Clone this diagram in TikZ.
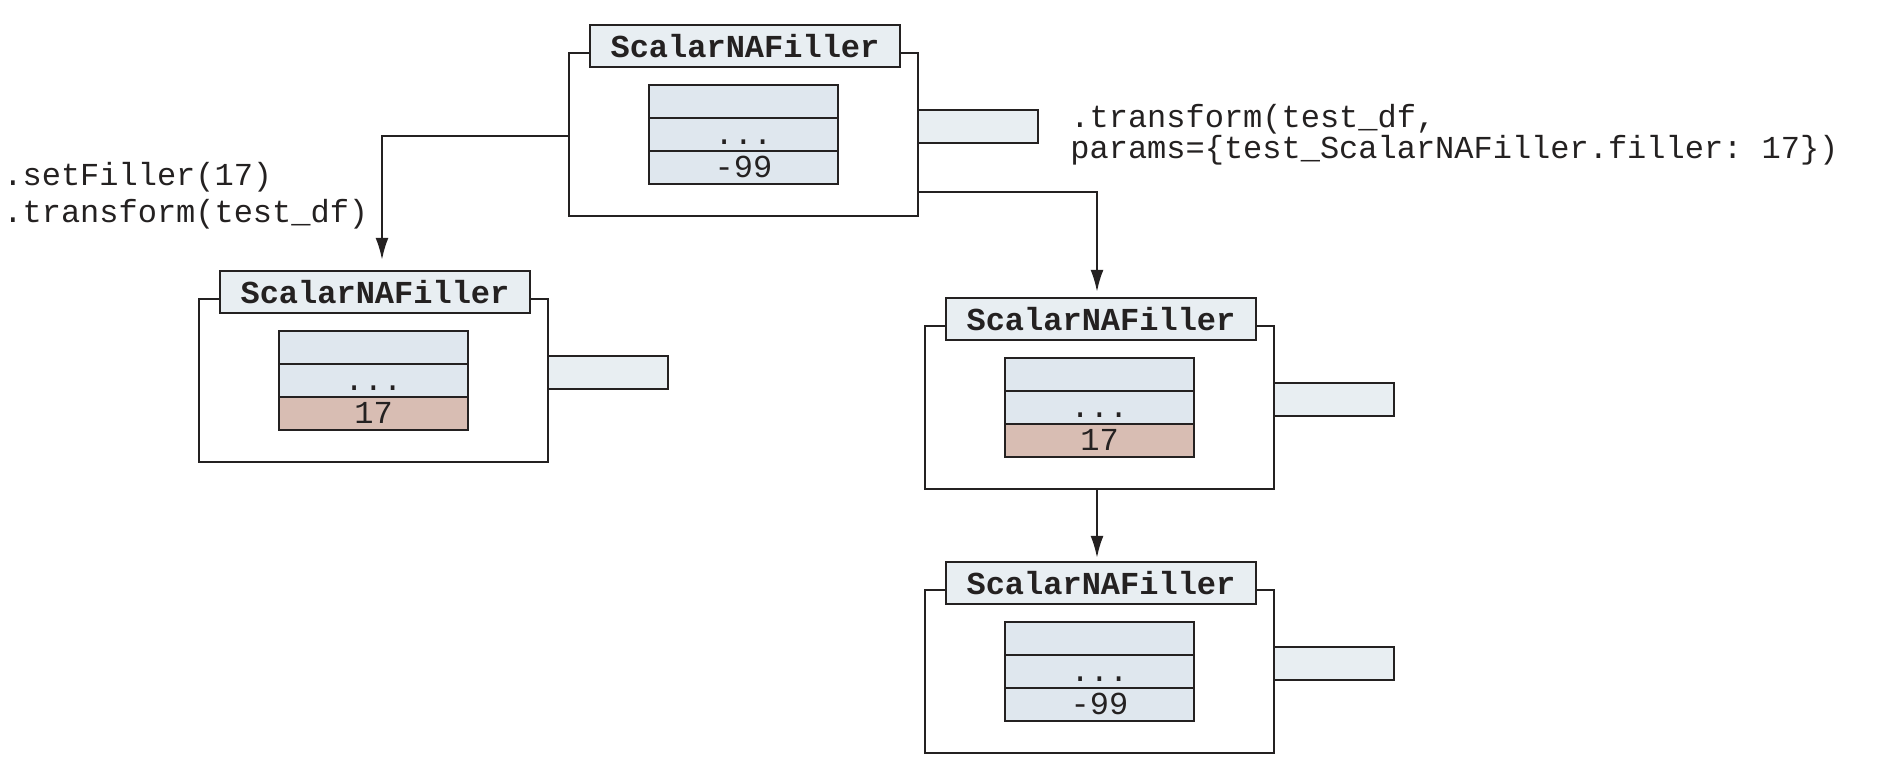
\documentclass[tikz,border=0pt]{standalone}
\usepackage{fontspec}
\setmonofont{Liberation Mono}
\usetikzlibrary{arrows.meta,calc}
\definecolor{LineClr}{rgb}{0.14,0.13,0.13}
\definecolor{TitleClr}{rgb}{0.91,0.933,0.949}
\definecolor{CellClr}{rgb}{0.875,0.906,0.933}
\definecolor{NewClr}{rgb}{0.847,0.741,0.702}

\begin{document}
\begin{tikzpicture}[x=0.5pt,y=-0.5pt,
  box/.style={draw=LineClr,line width=1.2pt,inner sep=0pt},
  outer/.style={box,fill=white,minimum width=174.5pt,minimum height=81.5pt},
  title/.style={box,fill=TitleClr,minimum width=155pt,minimum height=21pt,
    font=\ttfamily\bfseries\fontsize{16}{18}\selectfont,text=LineClr},
  cell/.style={box,minimum width=94.5pt,minimum height=16.5pt,text height=11pt,text depth=1pt,
    font=\ttfamily\fontsize{16}{18}\selectfont,text=LineClr},
  side/.style={box,fill=TitleClr,minimum width=60pt,minimum height=16.5pt},
  code/.style={inner sep=0pt,anchor=base west,font=\ttfamily\fontsize{16}{18}\selectfont,text=LineClr},
  arr/.style={draw=LineClr,line width=1pt,-{Latex[length=11pt,width=6.5pt]}}]

\useasboundingbox (0,0) rectangle (1896,781);

\foreach \n/\ox/\oy/\v/\c in {top/569/53/-99/CellClr,lft/199/299/17/NewClr,mid/925/326/17/NewClr,bot/925/590/-99/CellClr}{
  \node[outer] (\n) at (\ox+174.5,\oy+81.5) {};
  \node[title] (\n-t) at (\ox+176,\oy-7) {ScalarNAFiller};
  \node[cell,fill=CellClr] (\n-a) at (\ox+174.5,\oy+48.5) {};
  \node[cell,fill=CellClr] (\n-b) at (\ox+174.5,\oy+81.5) {...};
  \node[cell,fill=\c] (\n-c) at (\ox+174.5,\oy+114.5) {\v};
  \node[side] (\n-s) at (\ox+409,\oy+73.5) {};
}

\draw[arr] ([yshift=-42pt]top.north west) -| ([xshift=3.5pt,yshift=5pt]lft-t.north);
\draw[arr] ([yshift=12.5pt]top.south east) -| ([xshift=-2pt,yshift=2.5pt]mid-t.north);
\draw[arr] ([xshift=-2pt]mid-t.north |- mid.south) -- ([xshift=-2pt,yshift=1.5pt]bot-t.north);

\node[code] (set1) at (3,185) {.setFiller(17)};
\node[code] (set2) at (3,222) {.transform(test\_df)};
\node[code] (tr1) at (1070,127) {.transform(test\_df,};
\node[code] (tr2) at (1070,158) {params=\{test\_ScalarNAFiller.filler: 17\})};

\end{tikzpicture}
\end{document}
